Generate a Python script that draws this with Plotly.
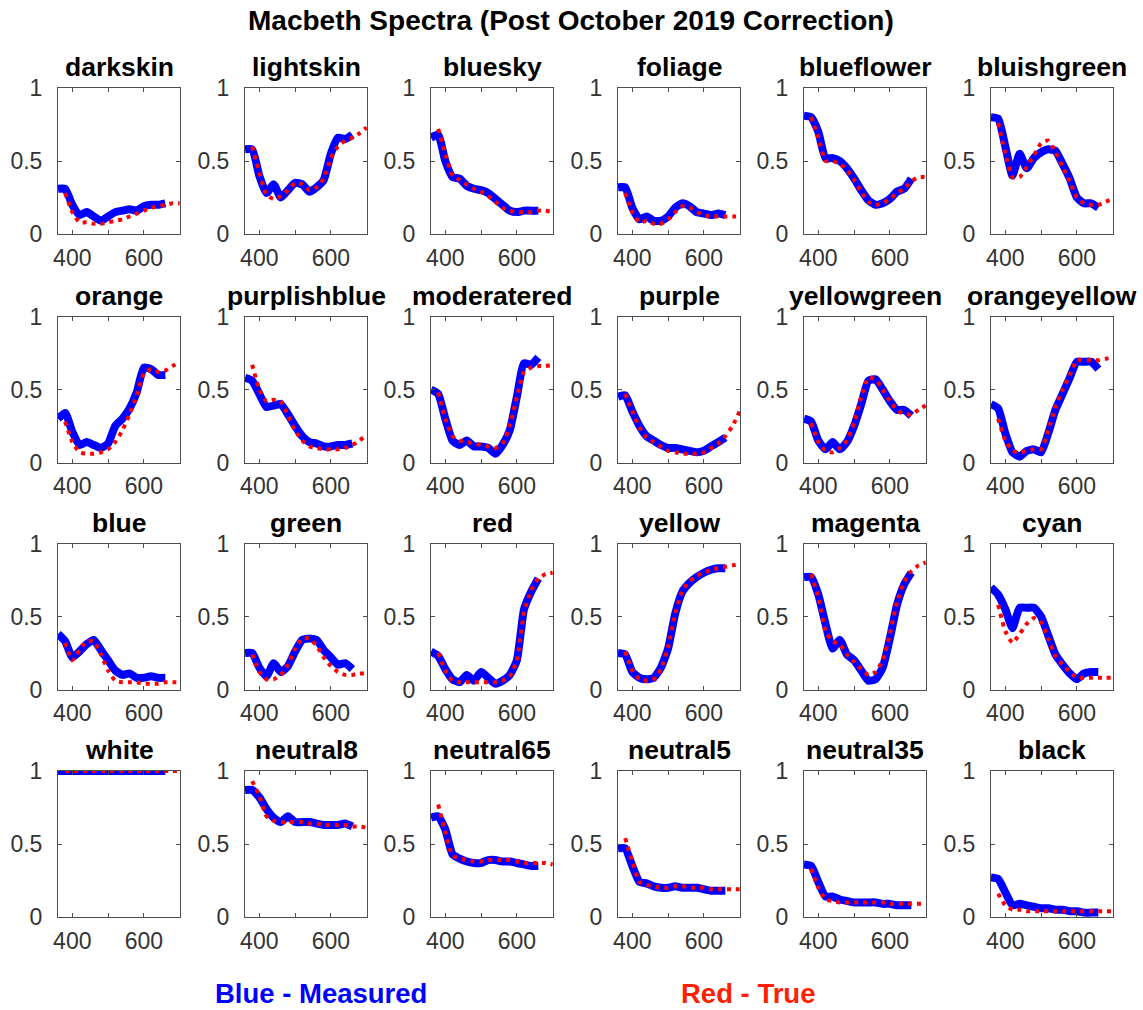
import plotly.graph_objects as go

# Wavelength grids (nm)
wl_meas = [360, 380, 400, 420, 440, 460, 480, 500, 520, 540, 560, 580, 600, 620, 640, 660]
wl_true = [380, 400, 420, 440, 460, 480, 500, 520, 540, 560, 580, 600, 620, 640, 660, 680, 700]

patch_names = ["darkskin", "lightskin", "bluesky", "foliage", "blueflower", "bluishgreen",
               "orange", "purplishblue", "moderatered", "purple", "yellowgreen", "orangeyellow",
               "blue", "green", "red", "yellow", "magenta", "cyan",
               "white", "neutral8", "neutral65", "neutral5", "neutral35", "black"]

darkskin_meas = [0.31, 0.31, 0.20, 0.13, 0.15, 0.12, 0.09, 0.12, 0.15, 0.16, 0.17, 0.16, 0.19, 0.20, 0.20, 0.21]
darkskin_true = [0.28, 0.15, 0.08, 0.08, 0.07, 0.07, 0.08, 0.09, 0.10, 0.12, 0.14, 0.16, 0.18, 0.19, 0.20, 0.21, 0.21]
lightskin_meas = [0.58, 0.58, 0.40, 0.28, 0.34, 0.25, 0.30, 0.35, 0.34, 0.29, 0.32, 0.37, 0.55, 0.66, 0.65, 0.68]
lightskin_true = [0.60, 0.42, 0.27, 0.24, 0.26, 0.30, 0.35, 0.34, 0.30, 0.32, 0.38, 0.52, 0.60, 0.64, 0.66, 0.69, 0.73]
bluesky_meas = [0.66, 0.68, 0.50, 0.39, 0.38, 0.33, 0.31, 0.30, 0.28, 0.24, 0.20, 0.16, 0.15, 0.16, 0.16, 0.16]
bluesky_true = [0.72, 0.55, 0.40, 0.37, 0.34, 0.31, 0.29, 0.26, 0.22, 0.18, 0.16, 0.15, 0.15, 0.15, 0.16, 0.16, 0.15]
foliage_meas = [0.32, 0.32, 0.18, 0.10, 0.12, 0.09, 0.09, 0.12, 0.18, 0.21, 0.19, 0.15, 0.14, 0.13, 0.14, 0.13]
foliage_true = [0.28, 0.15, 0.08, 0.09, 0.07, 0.07, 0.10, 0.15, 0.19, 0.18, 0.15, 0.13, 0.12, 0.12, 0.12, 0.12, 0.12]
blueflower_meas = [0.81, 0.80, 0.70, 0.52, 0.52, 0.50, 0.45, 0.38, 0.30, 0.23, 0.20, 0.21, 0.24, 0.29, 0.31, 0.38]
blueflower_true = [0.80, 0.66, 0.50, 0.50, 0.48, 0.44, 0.37, 0.29, 0.22, 0.20, 0.21, 0.24, 0.28, 0.31, 0.36, 0.39, 0.39]
bluishgreen_meas = [0.80, 0.79, 0.60, 0.40, 0.55, 0.45, 0.52, 0.56, 0.58, 0.57, 0.48, 0.38, 0.25, 0.21, 0.21, 0.18]
bluishgreen_true = [0.76, 0.55, 0.39, 0.39, 0.46, 0.54, 0.62, 0.64, 0.56, 0.46, 0.36, 0.25, 0.21, 0.20, 0.20, 0.22, 0.24]
orange_meas = [0.30, 0.34, 0.21, 0.12, 0.14, 0.12, 0.10, 0.13, 0.25, 0.30, 0.37, 0.48, 0.65, 0.64, 0.60, 0.60]
orange_true = [0.28, 0.14, 0.07, 0.06, 0.06, 0.07, 0.09, 0.14, 0.22, 0.33, 0.46, 0.61, 0.64, 0.62, 0.63, 0.66, 0.69]
purplishblue_meas = [0.58, 0.56, 0.47, 0.38, 0.39, 0.40, 0.33, 0.25, 0.18, 0.14, 0.13, 0.11, 0.11, 0.12, 0.12, 0.13]
purplishblue_true = [0.67, 0.50, 0.42, 0.43, 0.42, 0.32, 0.22, 0.15, 0.11, 0.10, 0.09, 0.09, 0.09, 0.10, 0.12, 0.15, 0.19]
moderatered_meas = [0.50, 0.47, 0.30, 0.15, 0.12, 0.15, 0.11, 0.11, 0.10, 0.06, 0.12, 0.22, 0.45, 0.68, 0.67, 0.72]
moderatered_true = [0.48, 0.30, 0.18, 0.15, 0.14, 0.13, 0.12, 0.11, 0.10, 0.13, 0.25, 0.45, 0.62, 0.65, 0.66, 0.66, 0.67]
purple_meas = [0.45, 0.46, 0.35, 0.25, 0.18, 0.15, 0.12, 0.10, 0.10, 0.09, 0.08, 0.07, 0.08, 0.11, 0.14, 0.17]
purple_true = [0.47, 0.35, 0.24, 0.17, 0.14, 0.11, 0.08, 0.07, 0.06, 0.06, 0.06, 0.07, 0.10, 0.13, 0.18, 0.25, 0.35]
yellowgreen_meas = [0.30, 0.28, 0.15, 0.09, 0.14, 0.09, 0.14, 0.25, 0.40, 0.56, 0.57, 0.50, 0.42, 0.36, 0.36, 0.32]
yellowgreen_true = [0.27, 0.14, 0.08, 0.07, 0.10, 0.15, 0.27, 0.45, 0.58, 0.57, 0.50, 0.42, 0.36, 0.33, 0.33, 0.36, 0.39]
orangeyellow_meas = [0.40, 0.37, 0.20, 0.07, 0.04, 0.08, 0.09, 0.07, 0.20, 0.36, 0.47, 0.58, 0.69, 0.69, 0.69, 0.64]
orangeyellow_true = [0.30, 0.15, 0.08, 0.07, 0.08, 0.09, 0.09, 0.22, 0.38, 0.50, 0.60, 0.70, 0.70, 0.70, 0.70, 0.71, 0.72]
blue_meas = [0.38, 0.33, 0.22, 0.26, 0.31, 0.34, 0.27, 0.20, 0.13, 0.10, 0.11, 0.08, 0.08, 0.09, 0.08, 0.08]
blue_true = [0.32, 0.20, 0.27, 0.33, 0.33, 0.24, 0.13, 0.06, 0.05, 0.05, 0.05, 0.04, 0.04, 0.04, 0.05, 0.05, 0.05]
green_meas = [0.25, 0.25, 0.15, 0.09, 0.18, 0.12, 0.16, 0.26, 0.34, 0.35, 0.34, 0.27, 0.22, 0.17, 0.18, 0.14]
green_true = [0.24, 0.12, 0.07, 0.07, 0.10, 0.17, 0.28, 0.35, 0.35, 0.30, 0.22, 0.16, 0.12, 0.10, 0.10, 0.11, 0.11]
red_meas = [0.26, 0.23, 0.14, 0.07, 0.05, 0.10, 0.06, 0.12, 0.08, 0.04, 0.06, 0.10, 0.20, 0.55, 0.67, 0.76]
red_true = [0.25, 0.13, 0.06, 0.05, 0.05, 0.05, 0.05, 0.05, 0.05, 0.06, 0.09, 0.20, 0.53, 0.68, 0.76, 0.79, 0.80]
yellow_meas = [0.25, 0.24, 0.12, 0.08, 0.07, 0.08, 0.15, 0.28, 0.52, 0.67, 0.73, 0.77, 0.80, 0.82, 0.83, 0.83]
yellow_true = [0.26, 0.13, 0.07, 0.06, 0.07, 0.14, 0.29, 0.52, 0.68, 0.74, 0.78, 0.80, 0.82, 0.83, 0.84, 0.85, 0.86]
magenta_meas = [0.77, 0.77, 0.65, 0.45, 0.28, 0.34, 0.24, 0.20, 0.13, 0.06, 0.07, 0.15, 0.35, 0.58, 0.72, 0.80]
magenta_true = [0.79, 0.63, 0.40, 0.33, 0.31, 0.24, 0.19, 0.14, 0.10, 0.12, 0.20, 0.38, 0.60, 0.74, 0.81, 0.85, 0.87]
cyan_meas = [0.70, 0.65, 0.55, 0.42, 0.56, 0.56, 0.56, 0.50, 0.37, 0.24, 0.17, 0.11, 0.07, 0.11, 0.12, 0.12]
cyan_true = [0.58, 0.40, 0.32, 0.38, 0.45, 0.49, 0.46, 0.35, 0.23, 0.17, 0.12, 0.08, 0.08, 0.08, 0.08, 0.08, 0.08]
white_meas = [1.0, 1.0, 1.0, 1.0, 1.0, 1.0, 1.0, 1.0, 1.0, 1.0, 1.0, 1.0, 1.0, 1.0, 1.0, 1.0]
white_true = [1.0, 1.0, 1.0, 1.0, 1.0, 1.0, 1.0, 1.0, 1.0, 1.0, 1.0, 1.0, 1.0, 1.0, 1.0, 1.0, 1.0]
neutral8_meas = [0.87, 0.87, 0.82, 0.74, 0.68, 0.65, 0.69, 0.65, 0.65, 0.65, 0.64, 0.63, 0.63, 0.63, 0.64, 0.62]
neutral8_true = [0.93, 0.83, 0.69, 0.66, 0.65, 0.65, 0.65, 0.65, 0.64, 0.64, 0.63, 0.63, 0.63, 0.63, 0.62, 0.62, 0.61]
neutral65_meas = [0.68, 0.69, 0.60, 0.43, 0.40, 0.38, 0.37, 0.37, 0.39, 0.39, 0.38, 0.38, 0.37, 0.36, 0.35, 0.35]
neutral65_true = [0.77, 0.58, 0.42, 0.40, 0.39, 0.38, 0.38, 0.39, 0.39, 0.39, 0.39, 0.38, 0.37, 0.37, 0.37, 0.37, 0.36]
neutral5_meas = [0.47, 0.47, 0.35, 0.24, 0.23, 0.21, 0.20, 0.20, 0.21, 0.20, 0.20, 0.20, 0.19, 0.18, 0.18, 0.18]
neutral5_true = [0.54, 0.38, 0.24, 0.22, 0.21, 0.20, 0.20, 0.21, 0.21, 0.20, 0.20, 0.20, 0.19, 0.19, 0.19, 0.19, 0.19]
neutral35_meas = [0.36, 0.35, 0.24, 0.14, 0.14, 0.12, 0.11, 0.10, 0.10, 0.10, 0.10, 0.09, 0.09, 0.08, 0.08, 0.08]
neutral35_true = [0.33, 0.20, 0.12, 0.11, 0.10, 0.10, 0.10, 0.10, 0.10, 0.10, 0.10, 0.09, 0.09, 0.09, 0.09, 0.09, 0.09]
black_meas = [0.27, 0.26, 0.17, 0.08, 0.09, 0.08, 0.07, 0.06, 0.06, 0.05, 0.05, 0.04, 0.04, 0.03, 0.03, 0.03]
black_true = [0.16, 0.08, 0.05, 0.05, 0.04, 0.04, 0.04, 0.04, 0.04, 0.04, 0.04, 0.04, 0.04, 0.04, 0.04, 0.04, 0.04]

measured = [darkskin_meas, lightskin_meas, bluesky_meas, foliage_meas, blueflower_meas, bluishgreen_meas,
            orange_meas, purplishblue_meas, moderatered_meas, purple_meas, yellowgreen_meas, orangeyellow_meas,
            blue_meas, green_meas, red_meas, yellow_meas, magenta_meas, cyan_meas,
            white_meas, neutral8_meas, neutral65_meas, neutral5_meas, neutral35_meas, black_meas]
true_vals = [darkskin_true, lightskin_true, bluesky_true, foliage_true, blueflower_true, bluishgreen_true,
             orange_true, purplishblue_true, moderatered_true, purple_true, yellowgreen_true, orangeyellow_true,
             blue_true, green_true, red_true, yellow_true, magenta_true, cyan_true,
             white_true, neutral8_true, neutral65_true, neutral5_true, neutral35_true, black_true]

x_tickvals = [400, 500, 600]
x_ticktext = ["400", "", "600"]
y_tickvals = [0, 0.5, 1]
y_ticktext = ["0", "0.5", "1"]

W, H = 1143, 1010
FONT = "Liberation Sans, Arial, Helvetica, sans-serif"
AXCOL = "#4d4d4d"
TICKCOL = "#333333"

col_left = [58, 245, 431, 618, 804, 991]
row_top = [88, 316.5, 543.5, 771]
box_w, box_h = 122, 146

fig = go.Figure()
layout = dict(
    template="none",
    width=W, height=H, margin=dict(l=0, r=0, t=0, b=0, pad=0), autosize=False,
    paper_bgcolor="white", plot_bgcolor="white", showlegend=False,
    font=dict(family=FONT, color=TICKCOL),
)
annotations = []

for i, name in enumerate(patch_names):
    r, c = divmod(i, 6)
    n = i + 1
    xa = "xaxis" if n == 1 else f"xaxis{n}"
    ya = "yaxis" if n == 1 else f"yaxis{n}"
    xref = "x" if n == 1 else f"x{n}"
    yref = "y" if n == 1 else f"y{n}"
    L = col_left[c]
    T = row_top[r]
    layout[xa] = dict(
        domain=[L / W, (L + box_w) / W], anchor=yref, range=[360, 701],
        tickvals=x_tickvals, ticktext=x_ticktext, ticks="inside", ticklen=4,
        tickcolor=AXCOL, showline=True, linecolor=AXCOL, linewidth=1, mirror="ticks",
        showgrid=False, zeroline=False, tickfont=dict(size=23, color=TICKCOL),
        ticklabelstandoff=3, automargin=False,
    )
    layout[ya] = dict(
        domain=[1 - (T + box_h) / H, 1 - T / H], anchor=xref, range=[0, 1],
        tickvals=y_tickvals, ticktext=y_ticktext, ticks="inside", ticklen=4,
        tickcolor=AXCOL, showline=True, linecolor=AXCOL, linewidth=1, mirror="ticks",
        showgrid=False, zeroline=False, tickfont=dict(size=23, color=TICKCOL),
        ticklabelstandoff=10, automargin=False,
    )
    fig.add_trace(go.Scatter(x=wl_meas, y=measured[i], mode="lines", xaxis=xref, yaxis=yref,
                             line=dict(color="#0000ff", width=8, shape="spline", smoothing=0.5)))
    fig.add_trace(go.Scatter(x=wl_true, y=true_vals[i], mode="lines", xaxis=xref, yaxis=yref,
                             line=dict(color="#ff0000", width=4, dash="4px,5px",
                                       shape="spline", smoothing=0.5)))
    annotations.append(dict(
        text=f"<b>{name}</b>", xref="paper", yref="paper",
        x=(L + box_w / 2) / W, y=1 - (T - 4) / H, xanchor="center", yanchor="bottom",
        showarrow=False, font=dict(size=26.5, color="black", family=FONT),
    ))

annotations.append(dict(
    text="<b>Macbeth Spectra (Post October 2019 Correction)</b>", xref="paper", yref="paper",
    x=571 / W, y=1 - 20 / H, xanchor="center", yanchor="middle", showarrow=False,
    font=dict(size=28, color="black", family=FONT)))
annotations.append(dict(
    text="<b>Blue - Measured</b>", xref="paper", yref="paper",
    x=321 / W, y=1 - 993 / H, xanchor="center", yanchor="middle", showarrow=False,
    font=dict(size=27.5, color="#0000ff", family=FONT)))
annotations.append(dict(
    text="<b>Red - True</b>", xref="paper", yref="paper",
    x=748 / W, y=1 - 993 / H, xanchor="center", yanchor="middle", showarrow=False,
    font=dict(size=27.5, color="#ff2000", family=FONT)))

layout["annotations"] = annotations
fig.update_layout(**layout)
fig.write_html("out.html")
